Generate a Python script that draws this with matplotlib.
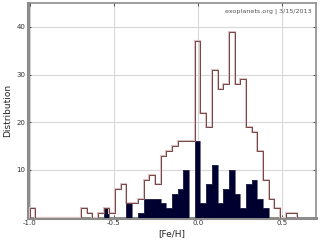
import numpy as np
import matplotlib
matplotlib.use("Agg")
import matplotlib.pyplot as plt

# histogram bins ([Fe/H])
bin_lo = -1.0
bin_width = 0.0338

# all planets (outline)
all_counts = [2, 0, 0, 0, 0, 0, 0, 0, 0, 2, 1, 0, 1, 2, 1, 6, 7, 3, 3, 4,
              8, 9, 7, 13, 14, 15, 16, 16, 16, 37, 22, 19, 31, 27, 28, 39, 28, 29, 19, 18,
              14, 8, 4, 2, 0, 1, 1]
# subset (filled)
sub_counts = [0, 0, 0, 0, 0, 0, 0, 0, 0, 0, 0, 0, 0, 2, 0, 0, 0, 3, 0, 1,
              4, 4, 4, 3, 2, 5, 6, 10, 0, 16, 3, 7, 11, 3, 6, 10, 5, 2, 7, 8,
              4, 2, 0, 0, 0, 0, 0]

xticks = [-1.0, -0.5, 0.0, 0.5]
yticks = [10, 20, 30, 40]

edges = bin_lo + bin_width * np.arange(len(all_counts) + 1)

fig = plt.figure(figsize=(3.2, 2.4), dpi=100)
ax = fig.add_axes([0.0875, 0.093, 0.9, 0.8946])

ax.stairs(sub_counts, edges, fill=True, color="#000030", zorder=3)
ax.stairs(sub_counts, edges, color="#3a3a5a", lw=0.5, zorder=3)
ax.stairs(all_counts, edges, color="#d6c4c4", lw=1.5, zorder=4)
ax.stairs(all_counts, edges, color="#7a4444", lw=0.7, zorder=5)

ax.set_xlim(-1.01, 0.7)
ax.set_ylim(0, 45)
ax.set_xticks(xticks)
ax.set_xticklabels([f"{t:.1f}" for t in xticks])
ax.set_yticks(yticks)
ax.grid(True, color="#d8d8d8", lw=0.8, zorder=0)
ax.tick_params(direction="in", length=2, width=0.6, labelsize=5, colors="#333333",
               pad=2, top=True, right=True)

for side in ["left", "bottom"]:
    ax.spines[side].set_color("#8c8c8c")
    ax.spines[side].set_linewidth(2.2)
for side in ["top", "right"]:
    ax.spines[side].set_color("#8c8c8c")
    ax.spines[side].set_linewidth(1.2)

ax.set_xlabel("[Fe/H]", fontsize=6.5, color="#222222", labelpad=2)
ax.set_ylabel("Distribution", fontsize=6.5, color="#222222", labelpad=3)
ax.text(0.985, 0.975, "exoplanets.org | 3/15/2013", transform=ax.transAxes,
        ha="right", va="top", fontsize=4.6, color="#555555")

fig.savefig("out.png", dpi=100)
